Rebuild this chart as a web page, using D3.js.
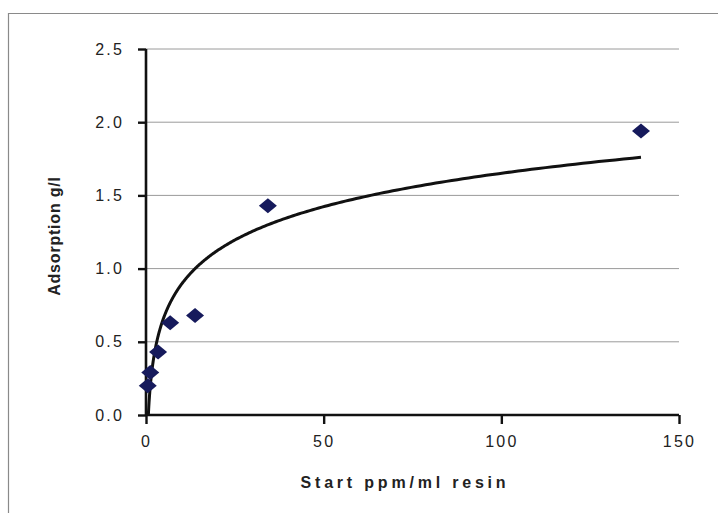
<!DOCTYPE html>
<html>
<head>
<meta charset="utf-8">
<script src="https://cdn.jsdelivr.net/npm/d3@7"></script>
<style>
  body { margin: 0; background: #fff; }
  svg { display: block; }
</style>
</head>
<body>
<svg id="chart" width="718" height="513"></svg>
<script>
const startPpm = [0.5, 1.2, 3.4, 6.8, 13.8, 34.3, 139.3];
const adsorption = [0.2, 0.29, 0.43, 0.63, 0.68, 1.43, 1.94];
const xTicks = [0, 50, 100, 150];
const yTicks = [0, 0.5, 1.0, 1.5, 2.0, 2.5];
// logarithmic trendline y = a*ln(x) + b, as drawn in the original
const trendA = 0.329;
const trendB = 0.136;
const trendStart = 0.66;

const svg = d3.select("#chart");
const margin = { left: 146, right: 39, top: 49, bottom: 98 };
const W = 718, H = 513;
const FONT = "'Liberation Sans', Arial, sans-serif";

const x = d3.scaleLinear().domain([0, 150]).range([margin.left, W - margin.right]);
const y = d3.scaleLinear().domain([0, 2.5]).range([H - margin.bottom, margin.top]);

// outer chart frame (only top and left edges are in view)
svg.append("path")
    .attr("d", `M8.5,${H} V13.5 H${W}`)
    .attr("fill", "none")
    .attr("stroke", "#8a8a8a")
    .attr("stroke-width", 1.2);

// gridlines
svg.append("g")
    .selectAll("line")
    .data(yTicks.filter(d => d > 0))
    .join("line")
    .attr("x1", x(0))
    .attr("x2", x(150))
    .attr("y1", d => y(d))
    .attr("y2", d => y(d))
    .attr("stroke", "#9a9a9a")
    .attr("stroke-width", 1);

const fmtY = d3.format(".1f");

const yAxis = svg.append("g")
    .attr("transform", `translate(${x(0)},0)`)
    .call(d3.axisLeft(y).tickValues(yTicks).tickSize(8).tickPadding(14).tickFormat(d => fmtY(d)));
const xAxis = svg.append("g")
    .attr("transform", `translate(0,${y(0)})`)
    .call(d3.axisBottom(x).tickValues(xTicks).tickSize(9).tickPadding(12));

[yAxis, xAxis].forEach(ax => {
    ax.select(".domain").attr("stroke", "#111").attr("stroke-width", 2.6);
    ax.selectAll(".tick line").attr("stroke", "#111").attr("stroke-width", 2.4);
    ax.selectAll(".tick text")
        .attr("fill", "#222")
        .style("font-family", FONT)
        .style("font-size", "16px")
        .style("letter-spacing", "2.2px");
});
yAxis.select(".domain").attr("d", `M0,${y(2.5)}V${y(0)}`);
xAxis.select(".domain").attr("d", `M${x(0)},0H${x(150)}`);

// trendline
const lineGen = d3.line().x(d => x(d)).y(d => y(trendA * Math.log(d) + trendB)).curve(d3.curveLinear);
const trendXs = d3.range(0, 301).map(i => trendStart * Math.pow(d3.max(startPpm) / trendStart, i / 300));
svg.append("path")
    .datum(trendXs)
    .attr("d", lineGen)
    .attr("fill", "none")
    .attr("stroke", "#111")
    .attr("stroke-width", 3);

// data markers
const pts = startPpm.map((v, i) => ({ x: v, y: adsorption[i] }));
svg.append("g")
    .selectAll("path")
    .data(pts)
    .join("path")
    .attr("transform", d => `translate(${x(d.x)},${y(d.y)})`)
    .attr("d", "M0,-7.5 L9,0 L0,7.5 L-9,0 Z")
    .attr("fill", "#161a5c");

// axis titles
svg.append("text")
    .attr("x", 405)
    .attr("y", 488)
    .attr("text-anchor", "middle")
    .style("font-family", FONT)
    .style("font-size", "16px")
    .style("font-weight", "bold")
    .style("letter-spacing", "3.8px")
    .attr("fill", "#222")
    .text("Start ppm/ml resin");

svg.append("text")
    .attr("transform", "translate(60,236) rotate(-90)")
    .attr("text-anchor", "middle")
    .style("font-family", FONT)
    .style("font-size", "16px")
    .style("font-weight", "bold")
    .style("letter-spacing", "0.8px")
    .attr("fill", "#222")
    .text("Adsorption g/l");
</script>
</body>
</html>
